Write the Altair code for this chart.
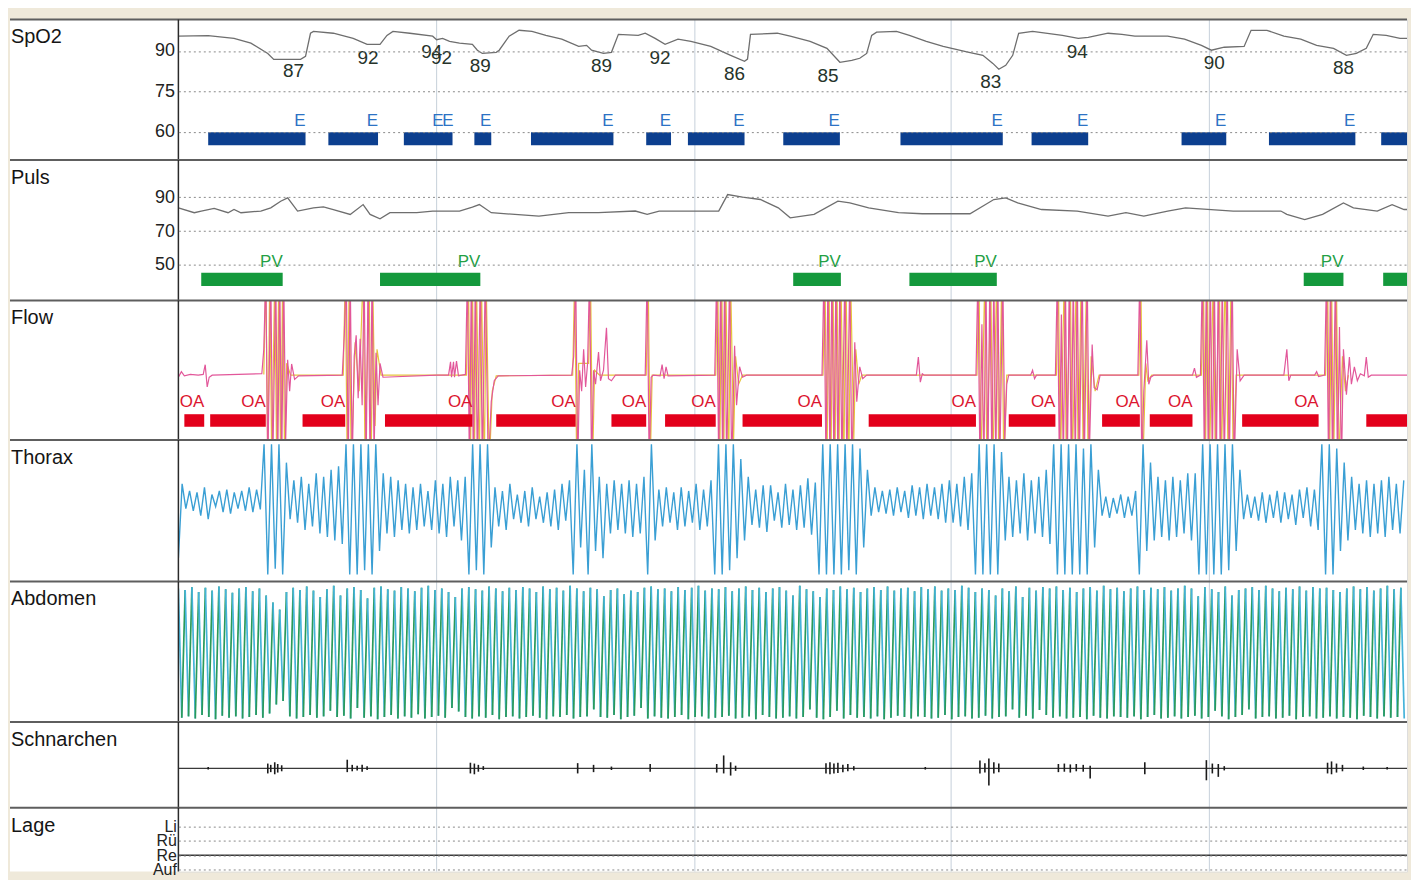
import altair as alt
import pandas as pd

FONT = "Liberation Sans"
T_MAX = 1237        # time window in samples
W = 1233            # plot width in pixels
LABEL_COL = 169     # left label column
BEIGE = "#efe9da"

# ---------------------------------------------------------------- data
panel_names = ["SpO2", "Puls", "Flow", "Thorax", "Abdomen", "Schnarchen", "Lage"]
minute_marks = [260, 520, 778, 1038]

# SpO2 trace
spo2_t = [0, 30, 56, 73, 90, 96, 123, 128, 133, 136, 156, 176, 190, 203, 210, 216, 233, 256, 260, 266,
          273, 283, 296, 301, 306, 320, 323, 333, 343, 356, 370, 386, 403, 411, 416, 428, 436, 443, 463, 470,
          480, 490, 503, 516, 536, 556, 570, 573, 576, 603, 616, 636, 653, 666, 678, 686, 693, 698, 703, 723,
          736, 753, 770, 783, 796, 810, 820, 826, 833, 840, 846, 860, 890, 906, 916, 936, 950, 963, 996, 1013,
          1030, 1040, 1053, 1073, 1080, 1096, 1113, 1130, 1146, 1163, 1176, 1186, 1196, 1203, 1216, 1230, 1237]
spo2_v = [95.5, 95.7, 94.7, 92.9, 89.1, 86.9, 86.9, 88.0, 96.6, 97.3, 96.6, 94.7, 92.5, 92.5, 95.8, 97.3, 96.6, 95.5, 94.2, 94.7,
          93.6, 92.9, 92.5, 90.3, 89.1, 89.5, 90.3, 95.5, 97.7, 97.3, 95.8, 94.4, 91.7, 92.1, 90.3, 89.1, 89.5, 96.2, 95.8, 96.6,
          94.7, 92.5, 94.4, 93.6, 91.7, 88.4, 86.2, 87.0, 96.2, 96.6, 95.5, 93.6, 91.0, 85.8, 86.5, 87.3, 89.1, 95.8, 97.0, 97.3,
          95.8, 93.6, 91.7, 90.6, 89.5, 88.4, 85.4, 83.2, 84.7, 88.4, 96.6, 97.3, 95.8, 94.7, 95.1, 96.6, 96.2, 95.5, 95.5, 94.4,
          92.1, 90.3, 91.4, 91.7, 97.7, 97.7, 95.5, 94.4, 92.1, 91.0, 88.4, 89.1, 91.0, 96.2, 95.8, 94.7, 94.7]
desat_t = [116, 191, 255, 265, 304, 426, 485, 560, 654, 818, 905, 1043, 1173]
desat_v = [87, 92, 94, 92, 89, 89, 92, 86, 85, 83, 94, 90, 88]
e_start = [30, 151, 227, 298, 355, 471, 513, 609, 727, 859, 1010, 1098, 1211]
e_end = [128, 201, 276, 315, 438, 496, 570, 666, 830, 916, 1055, 1185, 1237]
e_label_t = [128, 201, 267, 277, 315, 438, 496, 570, 666, 830, 916, 1055, 1185]

# Pulse trace
puls_t = [0, 16, 23, 36, 50, 56, 63, 83, 93, 103, 110, 120, 136, 146, 156, 173, 186, 193, 203, 213,
          240, 256, 283, 296, 303, 315, 363, 393, 423, 460, 472, 484, 544, 553, 568, 586, 604, 616, 640, 664,
          676, 695, 725, 749, 797, 821, 833, 845, 869, 905, 936, 954, 972, 996, 1014, 1062, 1110, 1116, 1134, 1152,
          1173, 1183, 1207, 1222, 1234, 1237]
puls_v = [83.7, 80.8, 81.8, 83.3, 80.8, 82.7, 80.8, 81.8, 83.7, 87.6, 89.6, 81.8, 83.7, 84.3, 82.7, 79.8, 85.6, 79.8, 77.2, 80.8,
          80.8, 81.8, 81.8, 84.1, 85.6, 80.8, 78.8, 80.8, 80.8, 81.8, 79.8, 81.8, 81.8, 91.5, 90.0, 88.6, 83.7, 77.8, 79.8, 87.6,
          86.6, 83.7, 80.8, 80.2, 80.2, 88.6, 89.6, 86.6, 82.7, 81.8, 78.8, 80.8, 78.8, 81.8, 83.7, 81.8, 81.8, 79.8, 76.8, 79.8,
          86.6, 83.7, 81.8, 85.6, 82.7, 82.7]
pv_start = [23, 203, 619, 736, 1133, 1213]
pv_end = [105, 304, 667, 824, 1173, 1237]
pv_label_t = [105, 304, 667, 824, 1173]

# Flow: nasal pressure (pink) and thermistor (yellow), (t, value)
flow_pink = [(0, -0.1), (3, -0.02), (6, -0.08), (12, -0.06), (20, -0.07), (25, -0.06), (27, 0.08), (29, -0.24), (31, -0.1), (34, -0.07), (84, -0.05),
             (86, 0.3), (88, 1.4), (90, -1.4), (93, 1.4), (95, -1.4), (98, 1.4), (100, -1.4), (102, 1.4), (104, -1.4), (106, 1.4), (108, -1.0),
             (110, 0.15), (112, -0.3), (114, 0.09), (117, -0.13), (121, -0.08), (165, -0.07),
             (167, 0.5), (169, 1.4), (171, -1.4), (173, 1.4), (175, -1.4), (177, 0.2), (179, 0.5), (181, -0.4), (183, 0.45), (185, -0.5),
             (187, 1.4), (189, -1.4), (191, 1.4), (193, -1.4), (195, 1.4), (197, -1.2), (199, 0.25), (201, -0.5), (203, 0.1), (206, -0.1),
             (260, -0.07), (272, -0.07), (274, 0.12), (275, -0.1), (277, 0.12), (278, -0.1), (280, 0.13), (282, -0.08), (289, -0.06),
             (291, 1.4), (293, -1.4), (295, 1.4), (297, -1.4), (299, 1.4), (301, -1.4), (304, 1.4), (306, -1.4), (309, 1.4), (312, -1.4),
             (315, -0.45), (318, -0.15), (322, -0.08), (396, -0.07),
             (398, 0.2), (400, 1.4), (402, -1.4), (404, 0.0), (406, -0.3), (408, 0.3), (410, -0.24), (412, 0.1), (414, 1.4), (416, -1.4),
             (418, 0.0), (420, -0.2), (423, 0.26), (425, -0.15), (428, 0.0), (431, 0.61), (433, -0.12), (436, -0.15), (440, -0.07), (470, -0.07),
             (472, 1.4), (474, -1.4), (476, -0.1), (478, -0.07), (485, -0.08), (487, 0.08), (489, -0.12), (491, 0.05), (493, -0.08), (540, -0.07),
             (542, 1.4), (544, -1.4), (546, 1.4), (548, -1.4), (550, 1.4), (552, -1.4), (555, 1.4), (557, -1.4), (560, 0.35), (562, -0.5),
             (565, 0.05), (568, -0.1), (572, -0.07), (648, -0.07),
             (650, 1.4), (652, -1.4), (654, 1.4), (656, -1.4), (658, 1.4), (660, -1.4), (662, 1.4), (664, -1.4), (666, 1.4), (668, -1.4),
             (671, 1.4), (673, -1.4), (676, 1.4), (678, -1.4), (681, 0.4), (683, -0.45), (686, 0.05), (689, -0.12), (693, -0.07),
             (743, -0.07), (745, 0.19), (747, -0.17), (749, -0.05), (751, -0.07), (803, -0.07),
             (805, 1.4), (807, -1.4), (809, 0.66), (811, -1.4), (813, 1.4), (815, -1.4), (817, 1.4), (819, -1.4), (821, 1.4), (823, -1.4),
             (825, 1.4), (827, -1.4), (830, 1.4), (832, -1.0), (834, -0.2), (836, -0.07), (858, -0.07), (860, 0.0), (862, -0.12), (864, -0.07), (883, -0.07),
             (885, 1.4), (887, -1.4), (889, 0.8), (891, -1.4), (893, 1.4), (895, -1.4), (897, 1.4), (899, -1.4), (901, 1.4), (903, -1.4),
             (905, 1.4), (907, -1.4), (910, 1.4), (912, -1.4), (915, 1.4), (917, -1.3), (920, 0.37), (922, -0.25), (925, -0.28), (928, -0.07), (966, -0.07),
             (968, 1.4), (970, -1.4), (972, -0.3), (975, 0.43), (977, -0.2), (979, -0.1), (982, -0.07), (1021, -0.07), (1023, 0.03), (1025, -0.1), (1029, -0.07),
             (1031, 1.4), (1033, -1.4), (1035, 1.4), (1037, -1.4), (1039, 1.4), (1041, -1.4), (1043, 1.4), (1045, -1.4), (1047, 1.4), (1049, -1.4),
             (1051, 1.4), (1053, -1.4), (1056, 1.4), (1058, -1.4), (1061, 1.4), (1063, -1.4), (1066, 0.3), (1069, -0.15), (1073, -0.07),
             (1113, -0.07), (1116, 0.3), (1118, -0.15), (1120, -0.07), (1144, -0.07), (1146, -0.02), (1148, -0.09), (1154, -0.07),
             (1156, 1.4), (1158, -1.4), (1160, 1.4), (1162, -1.4), (1165, 1.4), (1167, -1.4), (1169, 0.62), (1171, -1.4), (1173, 0.3), (1176, -0.35),
             (1179, 0.19), (1181, -0.2), (1184, 0.05), (1187, -0.15), (1190, -0.05), (1194, -0.08), (1196, 0.19), (1198, -0.1), (1201, -0.07), (1237, -0.07)]
flow_yellow = [(86, -0.06), (88, 1.4), (90, -1.4), (92, 1.4), (94, -1.4), (97, 1.4), (99, -1.4), (101, 1.3), (103, -1.4), (105, 1.4), (107, -1.4), (109, 0.1), (113, -0.07),
               (166, -0.07), (168, 1.4), (170, -1.4), (172, 1.4), (174, -1.4), (178, 0.4), (182, -0.3), (186, 1.4), (188, -1.4), (192, 1.4), (194, -1.4),
               (196, 1.0), (198, -0.8), (200, 0.3), (204, -0.07),
               (290, -0.07), (292, 1.4), (294, -1.4), (296, 1.4), (298, -1.4), (300, 1.4), (303, -1.4), (305, 1.4), (308, -1.4), (310, 1.2), (313, -1.4),
               (316, -0.3), (320, -0.08),
               (397, -0.07), (399, 1.4), (401, -1.4), (403, 0.1), (413, 0.1), (415, 1.3), (417, -1.4), (419, 0.0), (424, -0.07),
               (471, -0.07), (473, 1.4), (475, -1.4), (477, -0.07),
               (541, -0.07), (543, 1.4), (545, -1.4), (547, 1.4), (549, -1.4), (551, 1.4), (554, -1.4), (556, 1.3), (559, -1.0), (561, 0.2), (564, -0.2), (568, -0.07),
               (649, -0.07), (651, 1.4), (653, -1.4), (655, 1.4), (657, -1.4), (659, 1.4), (661, -1.4), (663, 1.4), (665, -1.4), (667, 1.4), (670, -1.4),
               (672, 1.4), (675, -1.4), (677, 1.2), (680, -1.0), (682, 0.3), (685, -0.2), (688, -0.07),
               (804, -0.07), (806, 1.4), (808, -1.4), (812, 1.4), (814, -1.4), (818, 1.3), (820, -1.4), (824, 1.4), (826, -1.4), (829, 1.4), (831, -1.4), (834, -0.07),
               (884, -0.07), (886, 1.4), (888, -1.4), (892, 1.4), (894, -1.4), (898, 1.4), (900, -1.4), (904, 1.3), (906, -1.4), (909, 1.4), (911, -1.4),
               (914, 1.1), (916, -1.4), (919, 0.2), (923, -0.3), (927, -0.07),
               (967, -0.07), (969, 1.4), (971, -1.4), (974, 0.1), (976, -0.15), (980, -0.07),
               (1030, -0.07), (1032, 1.4), (1034, -1.4), (1036, 1.4), (1038, -1.4), (1042, 1.4), (1044, -1.4), (1048, 1.4), (1050, -1.4), (1054, 1.4),
               (1057, -1.4), (1060, 1.4), (1062, -1.4), (1065, -0.07),
               (1155, -0.07), (1157, 1.4), (1159, -1.4), (1161, 1.4), (1163, -1.4), (1166, 1.2), (1168, -1.4), (1172, 0.2), (1175, -0.3), (1178, -0.07)]
oa_start = [6, 32, 125, 208, 320, 436, 490, 568, 695, 836, 930, 978, 1071, 1196]
oa_end = [26, 88, 168, 296, 400, 471, 541, 648, 803, 883, 968, 1021, 1148, 1237]
oa_label_t = [26, 88, 168, 296, 400, 471, 541, 648, 803, 883, 968, 1021, 1148]

# Thorax belt: turning points, one every 3.75 samples
THORAX_STEP = 3.75
thorax_v = [-75, 30, -5, 20, -8, 18, -15, 25, -20, 15, -2, 20, -10, 22, -12, 18, -5, 20, -8, 25, -10, 22, -6,
            86, -98, 86, -90, 86, -98, 60,
            -20, 35, -25, 40, -35, 30, -30, 45, -40, 40, -45, 50, -50, 55, -55,
            86, -98, 86, -98, 86, -92, 86, -98, 86, -65,
            45, -40, 40, -45, 35, -35, 30, -40, 25, -35, 30, -30, 20, -35, 35, -40, 30, -45, 40, -30, 35, -50, 40,
            -98, 86, -92, 86, -98, 86, -60,
            25, -30, 20, -35, 30, -20, 15, -25, 20, -30, 25, -20, 12, -25, 18, -30, 22, -35, 30, -22, 35,
            -98, 86, -60, 50, -98, 86, -65, 40, -75, 30, -40, 35,
            -35, 30, -40, 35, -45, 30, -40, 40,
            -98, 86, -50,
            22, -30, 25, -25, 18, -35, 25, -30, 20, -25, 30, -35, 22, -30, 35,
            -98, 86, -98, 86, -92, 86, -75, 65, -50, 40,
            -28, 22, -32, 28, -38, 28, -22, 18, -32, 30, -28, 22, -35, 28, -32, 38, -42, 32,
            -98, 86, -98, 86, -98, 86, -98, 86, -92, 86, -98, 80, -60, 50,
            -15, 25, -10, 20, -12, 22, -15, 25, -10, 20, -18, 28, -15, 25, -20, 30, -15, 25, -20, 30, -25, 35, -25, 30, -30, 40, -35, 45,
            -98, 86, -98, 86, -98, 86, -98, 75, -50,
            40, -45, 35, -40, 45, -50, 35, -40, 40, -45, 50, -55,
            86, -98, 86, -98, 86, -98, 86, -98, 80, -98, 86, -60, 50,
            -15, 12, -18, 10, -12, 15, -18, 12, -15, 20,
            -98, 86, -65, 60, -50,
            40, -45, 35, -50, 40, -45, 35, -40, 45, -50, 45,
            -98, 86, -98, 86, -98, 86, -98, 86, -92, 86, -65, 50,
            -20, 15, -18, 12, -22, 18, -25, 15, -18, 20, -25, 18, -20, 15, -28, 22, -18, 25, -30, 22, -35,
            86, -98, 86, -98, 80, -65, 60, -50,
            40, -35, 30, -40, 35, -45, 30, -40, 35, -45, 40, -35, 30, -40, 35]

# Abdomen belt: turning points, one every 3.4 samples
ABD_STEP = 3.4
abdomen_v = [90, -94, 88, -92, 92, -95, 85, -90, 91, -93, 87, -96, 93, -91, 89, -94, 84, -92, 90, -95,
             92, -93, 86, -90, 90, -94, 80, -88, 70, -75, 60, -70, 85, -92, 91, -95, 88, -93, 93, -90,
             87, -94, 78, -92, 89, -84, 94, -93, 80, -91, 90, -95, 92, -80, 88, -94, 76, -92, 91, -96,
             93, -93, 89, -90, 87, -95, 92, -92, 90, -94, 86, -89, 91, -95, 94, -93, 88, -91, 90, -94,
             85, -80, 78, -85, 90, -93, 92, -95, 89, -92, 87, -94, 93, -90, 90, -96, 86, -93, 91, -92,
             88, -95, 92, -93, 90, -91, 85, -94, 93, -96, 89, -92, 91, -93, 87, -90, 94, -95, 90, -93,
             86, -92, 91, -82, 89, -93, 79, -94, 88, -90, 90, -96, 82, -93, 87, -91, 85, -80, 91, -95,
             93, -92, 89, -94, 90, -95, 86, -93, 92, -90, 88, -96, 91, -93, 94, -92, 87, -95, 90, -94,
             89, -93, 92, -91, 86, -95, 90, -94, 93, -92, 88, -96, 91, -90, 85, -93, 90, -95, 92, -94,
             87, -92, 80, -95, 94, -93, 89, -82, 86, -94, 78, -96, 90, -93, 88, -84, 93, -95, 89, -90,
             91, -94, 85, -93, 90, -95, 92, -92, 88, -96, 93, -94, 87, -91, 90, -93, 91, -95, 86, -92,
             92, -93, 89, -95, 93, -94, 87, -90, 90, -96, 88, -93, 94, -92, 91, -95, 85, -94, 90, -91,
             88, -95, 80, -93, 90, -92, 86, -82, 93, -94, 78, -91, 91, -95, 87, -83, 92, -90, 90, -94,
             93, -92, 88, -95, 91, -94, 85, -93, 90, -96, 92, -91, 87, -94, 94, -95, 89, -92, 91, -93,
             86, -94, 90, -92, 93, -96, 88, -93, 91, -90, 89, -95, 92, -94, 87, -92, 90, -95, 94, -93,
             90, -91, 79, -95, 92, -93, 89, -84, 85, -92, 93, -96, 80, -93, 88, -90, 90, -82, 92, -95,
             88, -93, 94, -92, 90, -95, 86, -94, 91, -91, 89, -96, 93, -93, 87, -92, 92, -95, 90, -94,
             91, -92, 88, -95, 85, -93, 90, -94, 93, -96, 89, -91, 92, -93, 87, -95, 90, -92, 94, -94,
             89, -93, 91, -95]

# Snoring microphone bursts: time, upper and lower excursion
snore_t = [30, 90, 93, 97, 100, 104, 170, 175, 180, 185, 190, 294, 298, 302, 307, 402, 418, 436, 475,
           542, 549, 556, 561, 652, 656, 660, 664, 669, 674, 680, 752, 807, 812, 816, 821, 826,
           886, 892, 898, 904, 911, 918, 973, 1035, 1041, 1047, 1053, 1157, 1161, 1166, 1172, 1193, 1217]
snore_hi = [-0.05, 0.03, 0.0, 0.06, 0.02, -0.01, 0.12, 0.0, -0.02, 0.0, -0.03, 0.05, 0.03, 0.0, -0.03, 0.04, 0.0, -0.04, 0.02,
            0.02, 0.22, 0.06, -0.02, 0.04, 0.06, 0.03, 0.05, 0.0, 0.02, -0.03, -0.05, 0.1, 0.04, 0.15, 0.06, 0.03,
            0.02, 0.03, 0.01, 0.02, 0.0, -0.02, 0.06, 0.11, 0.03, 0.02, -0.03, 0.05, 0.08, 0.03, 0.0, -0.04, -0.05]
snore_lo = [-0.11, -0.2, -0.17, -0.22, -0.18, -0.15, -0.17, -0.15, -0.13, -0.16, -0.12, -0.2, -0.22, -0.16, -0.12, -0.2, -0.17, -0.12, -0.16,
            -0.18, -0.2, -0.25, -0.14, -0.2, -0.22, -0.2, -0.19, -0.17, -0.15, -0.13, -0.11, -0.2, -0.18, -0.48, -0.2, -0.17,
            -0.17, -0.16, -0.18, -0.15, -0.16, -0.32, -0.22, -0.36, -0.2, -0.28, -0.13, -0.2, -0.22, -0.18, -0.15, -0.12, -0.11]

# Body position
lage_levels = ["Li", "Rü", "Re", "Auf"]
lage_t = [0, 1237]
lage_pos = ["Re", "Re"]

# ---------------------------------------------------------------- helpers
XS = alt.Scale(domain=[0, T_MAX], nice=False, zero=False)


def X(field):
    return alt.X(f"{field}:Q", scale=XS, axis=None)


def frame(name, h):
    one = pd.DataFrame({"name": [name]})
    paper = alt.Chart(one).mark_rect(color="white").encode(
        x=alt.value(-LABEL_COL), x2=alt.value(W), y=alt.value(0), y2=alt.value(h))
    grid = alt.Chart(pd.DataFrame({"t": minute_marks})).mark_rule(
        color="#c6d0da", strokeWidth=1).encode(x=X("t"))
    sep = alt.Chart(one).mark_rule(color="#5e5e5e", strokeWidth=2).encode(
        x=alt.value(-LABEL_COL), x2=alt.value(W), y=alt.value(0))
    left = alt.Chart(one).mark_rule(color="#2a2a2a", strokeWidth=1.5).encode(
        x=alt.value(0), y=alt.value(0), y2=alt.value(h))
    title = alt.Chart(one).mark_text(align="left", baseline="alphabetic", font=FONT,
                                     fontSize=20, color="#151515").encode(
        x=alt.value(-LABEL_COL + 1), y=alt.value(24), text="name:N")
    return [paper, grid], [sep, left, title]


def num_axis(values):
    return alt.Axis(values=values, title=None, grid=True, gridDash=[2, 3], gridColor="#8a8a8a",
                    gridWidth=1, ticks=False, domain=False, labelFont=FONT, labelFontSize=18,
                    labelColor="#222222", labelPadding=4, zindex=1)


def panel(name, h, layers):
    back, front = frame(name, h)
    return alt.layer(*back, *layers, *front).properties(width=W, height=h)


# ---------------------------------------------------------------- SpO2
sc = alt.Scale(domain=[49.5, 101.7], nice=False, zero=False)
ax = num_axis([60, 75, 90])
spo2 = panel("SpO2", 141, [
    alt.Chart(pd.DataFrame({"t": e_start, "t1": e_end})).mark_rect(color="#0c3f8f").encode(
        x=X("t"), x2="t1:Q", y=alt.YDatum(55.0, scale=sc, axis=ax), y2=alt.Y2Datum(59.8)),
    alt.Chart(pd.DataFrame({"t": spo2_t, "v": spo2_v})).mark_line(color="#6e6e6e", strokeWidth=1.3).encode(
        x=X("t"), y=alt.Y("v:Q", scale=sc, axis=ax)),
    alt.Chart(pd.DataFrame({"t": e_label_t, "s": ["E"] * len(e_label_t)})).mark_text(
        color="#2c72c4", font=FONT, fontSize=17, align="right", baseline="middle", dy=-11).encode(
        x=X("t"), y=alt.YDatum(60.0, scale=sc, axis=ax), text="s:N"),
    alt.Chart(pd.DataFrame({"t": desat_t, "v": desat_v})).mark_text(
        color="#26332a", font=FONT, fontSize=19, baseline="middle", dy=12).encode(
        x=X("t"), y=alt.Y("v:Q", scale=sc, axis=ax), text="v:Q"),
])

# ---------------------------------------------------------------- Puls
sc = alt.Scale(domain=[29.0, 111.9], nice=False, zero=False)
ax = num_axis([50, 70, 90])
puls = panel("Puls", 141, [
    alt.Chart(pd.DataFrame({"t": pv_start, "t1": pv_end})).mark_rect(color="#14993c").encode(
        x=X("t"), x2="t1:Q", y=alt.YDatum(37.6, scale=sc, axis=ax), y2=alt.Y2Datum(45.4)),
    alt.Chart(pd.DataFrame({"t": puls_t, "v": puls_v})).mark_line(color="#6e6e6e", strokeWidth=1.3).encode(
        x=X("t"), y=alt.Y("v:Q", scale=sc, axis=ax)),
    alt.Chart(pd.DataFrame({"t": pv_label_t, "s": ["PV"] * len(pv_label_t)})).mark_text(
        color="#23a044", font=FONT, fontSize=17, align="right", baseline="middle", dy=-3).encode(
        x=X("t"), y=alt.YDatum(50.0, scale=sc, axis=ax), text="s:N"),
])

# ---------------------------------------------------------------- Flow
sc = alt.Scale(domain=[-1, 1], nice=False, zero=False)
flow = panel("Flow", 140, [
    alt.Chart(pd.DataFrame(flow_yellow, columns=["t", "v"])).mark_line(
        color="#e6c43c", strokeWidth=1.2, clip=True).encode(x=X("t"), y=alt.Y("v:Q", scale=sc, axis=None)),
    alt.Chart(pd.DataFrame(flow_pink, columns=["t", "v"])).mark_line(
        color="#e2579a", strokeWidth=1.2, clip=True).encode(x=X("t"), y=alt.Y("v:Q", scale=sc, axis=None)),
    alt.Chart(pd.DataFrame({"t": oa_start, "t1": oa_end})).mark_rect(color="#e3001b").encode(
        x=X("t"), x2="t1:Q", y=alt.YDatum(-0.81, scale=sc, axis=None), y2=alt.Y2Datum(-0.63)),
    alt.Chart(pd.DataFrame({"t": oa_label_t, "s": ["OA"] * len(oa_label_t)})).mark_text(
        color="#dc1530", font=FONT, fontSize=17, align="right", baseline="middle", dy=-12).encode(
        x=X("t"), y=alt.YDatum(-0.63, scale=sc, axis=None), text="s:N"),
])

# ---------------------------------------------------------------- Thorax
sc = alt.Scale(domain=[-108, 92], nice=False, zero=False)
thorax_df = pd.DataFrame({"t": [i * THORAX_STEP for i in range(len(thorax_v))], "v": thorax_v})
thorax = panel("Thorax", 142, [
    alt.Chart(thorax_df).mark_line(color="#3a9fd4", strokeWidth=1.4, clip=True).encode(
        x=X("t"), y=alt.Y("v:Q", scale=sc, axis=None)),
])

# ---------------------------------------------------------------- Abdomen
sc = alt.Scale(domain=[-100, 100], nice=False, zero=False)
abd_t = [i * ABD_STEP for i in range(len(abdomen_v))]
abd_df = pd.DataFrame({
    "t": abd_t[:-1], "t1": abd_t[1:], "v": abdomen_v[:-1], "v1": abdomen_v[1:],
    "dir": ["up" if b > a else "down" for a, b in zip(abdomen_v[:-1], abdomen_v[1:])],
})
abdomen = panel("Abdomen", 141, [
    alt.Chart(abd_df).mark_rule(strokeWidth=1.7, clip=True).encode(
        x=X("t"), x2="t1:Q", y=alt.Y("v:Q", scale=sc, axis=None), y2="v1:Q",
        color=alt.Color("dir:N", scale=alt.Scale(domain=["up", "down"], range=["#2a9a5a", "#45b3d9"]), legend=None)),
])

# ---------------------------------------------------------------- Schnarchen
sc = alt.Scale(domain=[-1, 1], nice=False, zero=False)
snore = panel("Schnarchen", 86, [
    alt.Chart(pd.DataFrame({"name": ["base"]})).mark_rule(color="#3a3a3a", strokeWidth=1.2).encode(
        y=alt.YDatum(-0.08, scale=sc, axis=None)),
    alt.Chart(pd.DataFrame({"t": snore_t, "hi": snore_hi, "lo": snore_lo})).mark_rule(
        color="#1b1b1b", strokeWidth=1.6).encode(
        x=X("t"), y=alt.Y("hi:Q", scale=sc, axis=None), y2="lo:Q"),
])

# ---------------------------------------------------------------- Lage
lage_sc = alt.Scale(type="point", domain=lage_levels, range=[19, 62], padding=0)
lage_ax = alt.Axis(title=None, grid=True, gridDash=[2, 3], gridColor="#8a8a8a", ticks=False, domain=False,
                   labelFont=FONT, labelFontSize=16, labelColor="#222222", labelPadding=2, zindex=1)
lage = panel("Lage", 64, [
    alt.Chart(pd.DataFrame({"t": lage_t, "pos": lage_pos})).mark_line(color="#3a3a3a", strokeWidth=1.6).encode(
        x=X("t"), y=alt.Y("pos:N", scale=lage_sc, axis=lage_ax, sort=lage_levels)),
])

chart = alt.vconcat(spo2, puls, flow, thorax, abdomen, snore, lage, spacing=0, bounds="flush").properties(
    padding={"left": 0, "top": 8, "right": 0, "bottom": 0}
).configure_view(stroke=None).configure(background=BEIGE)

chart.save("out.html", embed_options={"renderer": "svg", "actions": False})
